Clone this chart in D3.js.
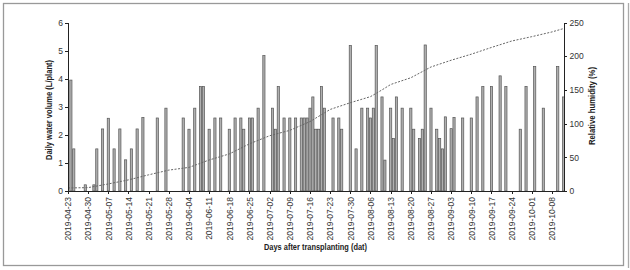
<!doctype html>
<html>
<head>
<meta charset="utf-8">
<script src="https://cdn.jsdelivr.net/npm/d3@7"></script>
<style>
  body { margin: 0; background: #fff; }
  svg { display: block; font-family: "Liberation Sans", Arial, sans-serif; }
  .axis path, .axis line { stroke: #222; shape-rendering: crispEdges; }
  .axis text { fill: #333; font-size: 8.5px; }
  .title { font-weight: bold; font-size: 8.5px; fill: #222; }
</style>
</head>
<body>
<svg width="630" height="270"></svg>
<script>
// watering days and daily water volume (L/plant)
var waterDates = ["2019-04-24","2019-04-25","2019-04-29","2019-05-02","2019-05-03","2019-05-05",
  "2019-05-07","2019-05-09","2019-05-11","2019-05-13","2019-05-15","2019-05-17","2019-05-19",
  "2019-05-24","2019-05-27","2019-06-02","2019-06-04","2019-06-06","2019-06-08","2019-06-09",
  "2019-06-11","2019-06-13","2019-06-15","2019-06-18","2019-06-20","2019-06-22","2019-06-23",
  "2019-06-25","2019-06-26","2019-06-28","2019-06-30","2019-07-03","2019-07-04","2019-07-05",
  "2019-07-07","2019-07-09","2019-07-11","2019-07-13","2019-07-14","2019-07-15","2019-07-16",
  "2019-07-17","2019-07-18","2019-07-19","2019-07-20","2019-07-21","2019-07-24","2019-07-26",
  "2019-07-27","2019-07-30","2019-08-01","2019-08-03","2019-08-05","2019-08-06","2019-08-07",
  "2019-08-08","2019-08-10","2019-08-11","2019-08-13","2019-08-14","2019-08-15","2019-08-17",
  "2019-08-20","2019-08-21","2019-08-23","2019-08-24","2019-08-25","2019-08-27","2019-08-29",
  "2019-08-30","2019-08-31","2019-09-01","2019-09-03","2019-09-04","2019-09-07","2019-09-10",
  "2019-09-12","2019-09-14","2019-09-17","2019-09-20","2019-09-22","2019-09-27","2019-09-29",
  "2019-10-02","2019-10-05","2019-10-10","2019-10-12"];
var waterVolume = [3.95,1.5,0.22,0.22,1.5,2.21,
  2.59,1.5,2.21,1.11,1.5,2.21,2.62,
  2.6,2.95,2.6,2.2,2.95,3.72,3.72,
  2.2,2.6,2.6,2.2,2.6,2.6,2.2,
  2.6,2.6,2.95,4.82,2.95,2.2,3.72,
  2.6,2.6,2.6,2.6,2.6,2.6,2.95,
  3.35,2.2,2.2,3.72,2.95,2.6,2.6,
  2.2,5.18,1.5,2.95,2.95,2.6,2.95,
  5.18,3.35,1.1,2.95,1.87,3.35,2.95,
  2.95,2.2,1.87,2.2,5.2,2.95,2.2,
  1.87,1.5,2.64,2.22,2.62,2.6,2.6,
  3.35,3.72,3.72,4.1,3.72,2.2,3.72,
  4.43,2.95,4.43,3.35];

// dotted line, right axis
var lineDates = ["2019-04-23","2019-04-30","2019-05-07","2019-05-14","2019-05-21","2019-05-28",
  "2019-06-04","2019-06-11","2019-06-18","2019-06-25","2019-07-02","2019-07-09","2019-07-16",
  "2019-07-23","2019-07-30","2019-08-06","2019-08-10","2019-08-13","2019-08-20","2019-08-27",
  "2019-09-03","2019-09-10","2019-09-17","2019-09-24","2019-10-01","2019-10-08","2019-10-12"];
var lineValues = [4.5,5,10.5,16.5,24,31,
  35,46,55,70,82,90,103,
  121,131,140,150,158,168,184,
  194,203,213,222.5,229,236,241];

var xTicks = ["2019-04-23","2019-04-30","2019-05-07","2019-05-14","2019-05-21","2019-05-28",
  "2019-06-04","2019-06-11","2019-06-18","2019-06-25","2019-07-02","2019-07-09","2019-07-16",
  "2019-07-23","2019-07-30","2019-08-06","2019-08-13","2019-08-20","2019-08-27","2019-09-03",
  "2019-09-10","2019-09-17","2019-09-24","2019-10-01","2019-10-08"];
var leftTicks = [0,1,2,3,4,5,6];
var rightTicks = [0,50,100,150,200,250];

var parse = d3.timeParse("%Y-%m-%d");
var svg = d3.select("svg");

// frame
svg.append("rect").attr("x", 3.5).attr("y", 3.5).attr("width", 620).attr("height", 262)
  .attr("fill", "none").attr("stroke", "#999").attr("stroke-width", 1.3);
svg.append("line").attr("x1", 628.5).attr("x2", 628.5).attr("y1", 3).attr("y2", 268)
  .attr("stroke", "#aaa").attr("stroke-width", 1.3);

var plotLeft = 68, plotRight = 563.5, plotTop = 22.5, plotBottom = 191;

var x = d3.scaleTime()
  .domain([parse("2019-04-23"), parse("2019-10-12")])
  .range([plotLeft, plotRight]);
var yL = d3.scaleLinear().domain([0, 6]).range([plotBottom, plotTop]);
var yR = d3.scaleLinear().domain([0, 250]).range([plotBottom, plotTop]);

// bars
svg.append("g").selectAll("rect")
  .data(waterDates)
  .enter()
  .append("rect")
  .attr("x", function(d) { return x(parse(d)) - 1.1; })
  .attr("y", function(d, i) { return yL(waterVolume[i]); })
  .attr("width", 2.2)
  .attr("height", function(d, i) { return plotBottom - yL(waterVolume[i]); })
  .attr("fill", "#b0b0b0")
  .attr("stroke", "#555")
  .attr("stroke-width", 0.7);

// dotted line
var line = d3.line()
  .x(function(d) { return x(parse(d)); })
  .y(function(d, i) { return yR(lineValues[i]); });
svg.append("path")
  .datum(lineDates)
  .attr("d", line)
  .attr("fill", "none")
  .attr("stroke", "#666")
  .attr("stroke-width", 1)
  .attr("stroke-dasharray", "2,1.5");

// axes
var xAxis = d3.axisBottom(x)
  .tickValues(xTicks.map(parse))
  .tickFormat(d3.timeFormat("%Y-%m-%d"))
  .tickSize(3).tickSizeOuter(0);
var xg = svg.append("g").attr("class", "axis")
  .attr("transform", "translate(0," + plotBottom + ")")
  .call(xAxis);
xg.selectAll("text")
  .attr("transform", "rotate(-90)")
  .attr("x", -6).attr("y", 0).attr("dy", "0.32em")
  .style("text-anchor", "end");

svg.append("g").attr("class", "axis")
  .attr("transform", "translate(" + plotLeft + ",0)")
  .call(d3.axisLeft(yL).tickValues(leftTicks).tickFormat(d3.format("d")).tickSize(3).tickSizeOuter(0))
  .selectAll("text").attr("x", -5);

svg.append("g").attr("class", "axis")
  .attr("transform", "translate(" + plotRight + ",0)")
  .call(d3.axisRight(yR).tickValues(rightTicks).tickSize(3).tickSizeOuter(0))
  .selectAll("text").attr("x", 6);

// titles
svg.append("text").attr("class", "title")
  .attr("transform", "translate(52,110) rotate(-90)")
  .attr("text-anchor", "middle")
  .attr("textLength", 100).attr("lengthAdjust", "spacingAndGlyphs")
  .text("Daily water volume (L/plant)");

svg.append("text").attr("class", "title")
  .attr("transform", "translate(595,106) rotate(-90)")
  .attr("text-anchor", "middle")
  .attr("textLength", 78).attr("lengthAdjust", "spacingAndGlyphs")
  .text("Relative humidity (%)");

svg.append("text").attr("class", "title")
  .attr("x", 315.5).attr("y", 250)
  .attr("text-anchor", "middle")
  .attr("textLength", 103).attr("lengthAdjust", "spacingAndGlyphs")
  .text("Days after transplanting (dat)");
</script>
</body>
</html>
